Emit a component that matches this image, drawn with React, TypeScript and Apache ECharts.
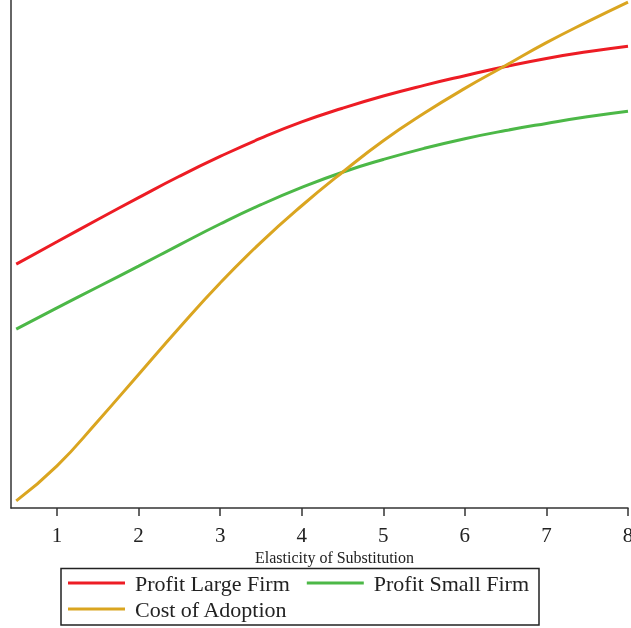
import React, { useEffect, useRef } from "react";
import * as echarts from "echarts";

const seriesNames = ["Profit Large Firm", "Profit Small Firm", "Cost of Adoption"];
const elasticity = [0.5, 1, 1.5, 2, 2.5, 3, 3.5, 4, 4.5, 5, 5.5, 6, 6.5, 7, 7.5, 8];
const largeFirm = [48.0, 52.4, 56.8, 61.1, 65.3, 69.2, 72.8, 76.0, 78.7, 81.1, 83.2, 85.1, 86.9, 88.5, 89.8, 90.9];
const smallFirm = [35.2, 39.4, 43.5, 47.6, 51.8, 55.9, 59.7, 63.1, 66.1, 68.6, 70.8, 72.7, 74.3, 75.7, 77.0, 78.1];
const costAdoption = [1.4, 8.3, 17.1, 26.3, 35.5, 44.3, 52.3, 59.5, 66.1, 72.3, 77.7, 82.6, 87.1, 91.6, 95.7, 99.6];
const xTicks = [1, 2, 3, 4, 5, 6, 7, 8];
const xName = "Elasticity of Substitution";
const colors = ["#ED1C24", "#4CB847", "#DAA520"];

const FONT = "'Liberation Serif', 'Times New Roman', serif";

export default function App() {
  const ref = useRef<HTMLDivElement>(null);
  useEffect(() => {
    if (!ref.current) return;
    const chart = echarts.init(ref.current, null, { renderer: "svg" });
    const pair = (xs: number[], ys: number[]) => xs.map((x, i) => [x, ys[i]]);
    const legendCommon = {
      left: 68,
      orient: "horizontal" as const,
      icon: "rect",
      itemWidth: 57,
      itemHeight: 3,
      itemGap: 17,
      padding: 0,
      textStyle: {
        fontFamily: FONT,
        fontSize: 22,
        color: "#222",
        padding: [0, 0, 0, 5],
      },
      selectedMode: false,
    };
    const lineSeries = (name: string, ys: number[], color: string) => ({
      name,
      type: "line",
      data: pair(elasticity, ys),
      smooth: 0.5,
      symbol: "none",
      lineStyle: { width: 3, color },
    });
    chart.setOption({
      animation: false,
      color: colors,
      grid: {
        left: 11,
        top: 0,
        right: 3,
        bottom: 120,
        containLabel: false,
        outerBoundsMode: "none",
      },
      xAxis: {
        type: "value",
        min: 0.436,
        max: 8,
        name: xName,
        nameLocation: "middle",
        nameGap: 36,
        nameTextStyle: {
          fontFamily: FONT,
          fontSize: 16,
          color: "#222",
          padding: [0, 0, 0, 30],
        },
        axisLine: { show: true, lineStyle: { color: "#333", width: 1.5 } },
        axisTick: {
          show: true,
          length: 8,
          lineStyle: { color: "#333", width: 1.5 },
          customValues: xTicks,
        },
        axisLabel: {
          margin: 16,
          fontFamily: FONT,
          fontSize: 21,
          color: "#222",
          customValues: xTicks,
        },
        splitLine: { show: false },
      },
      yAxis: {
        type: "value",
        min: 0,
        max: 100,
        axisLine: { show: true, lineStyle: { color: "#333", width: 1.5 } },
        axisTick: { show: false },
        axisLabel: { show: false },
        splitLine: { show: false },
      },
      legend: [
        { ...legendCommon, top: 572, data: [seriesNames[0], seriesNames[1]] },
        { ...legendCommon, top: 598, data: [seriesNames[2]] },
      ],
      graphic: [
        {
          type: "rect",
          shape: { x: 61, y: 568.5, width: 478, height: 56.5 },
          style: { fill: "none", stroke: "#222", lineWidth: 1.5 },
          silent: true,
        },
      ],
      series: [
        lineSeries(seriesNames[0], largeFirm, colors[0]),
        lineSeries(seriesNames[1], smallFirm, colors[1]),
        lineSeries(seriesNames[2], costAdoption, colors[2]),
      ],
    });
    return () => chart.dispose();
  }, []);
  return (
    <div
      ref={ref}
      style={{ position: "fixed", left: 0, top: 0, width: 631, height: 628 }}
    />
  );
}
